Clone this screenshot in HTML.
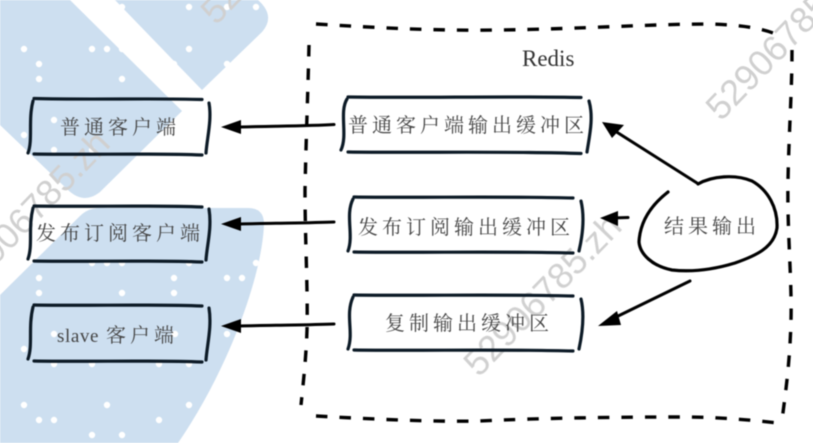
<!DOCTYPE html>
<html>
<head>
<meta charset="utf-8">
<style>
html,body{margin:0;padding:0;background:#fff;width:813px;height:443px;overflow:hidden}
svg{display:block}
.c{font-family:"Liberation Serif","Noto Serif CJK SC",serif;font-size:20px;fill:#444;letter-spacing:4px}
.w{font-family:"Liberation Sans",sans-serif;font-size:36px;fill:#d0d0d0}
.b{fill:none;stroke:#0c1a26;stroke-width:3.2;stroke-linecap:round}
.a{fill:none;stroke:#000;stroke-width:3;stroke-linecap:round}
.d{fill:none;stroke:#000;stroke-width:3.4;stroke-dasharray:11.5 12}
</style>
</head>
<body>
<svg width="813" height="443" viewBox="0 0 813 443" xmlns="http://www.w3.org/2000/svg">
<g style="filter:blur(.45px)">
<g fill="#cddff0">
<path d="M0 0H70L182 111L100 192Q84 205 68 190L0 125Z"/>
<path d="M115 0H258Q276 16 262 32L202 90Z"/>
<path d="M0 295L80 216Q88 208 100 208H248Q264 208 264 224C262 280 225 375 178 443H0Z"/>
</g>
<g fill="#fff">
<circle cx="122" cy="7" r="3.2"/><circle cx="189" cy="7" r="3.2"/><circle cx="227" cy="7" r="3.2"/><circle cx="256" cy="7" r="3.2"/>
<circle cx="24" cy="49" r="3.2"/><circle cx="92" cy="49" r="3.2"/><circle cx="107" cy="49" r="3.2"/><circle cx="122" cy="49" r="3.2"/><circle cx="189" cy="49" r="3.2"/>
<circle cx="39" cy="64" r="3.2"/><circle cx="174" cy="64" r="3.2"/><circle cx="227" cy="64" r="3.2"/>
<circle cx="39" cy="79" r="3.2"/><circle cx="122" cy="79" r="3.2"/>
<circle cx="54" cy="120" r="3.2"/><circle cx="24" cy="135" r="3.2"/><circle cx="54" cy="150" r="3.2"/><circle cx="92" cy="150" r="3.2"/>
<circle cx="92" cy="263" r="3.2"/><circle cx="107" cy="263" r="3.2"/><circle cx="122" cy="263" r="3.2"/><circle cx="189" cy="263" r="3.2"/><circle cx="256" cy="263" r="3.2"/>
<circle cx="39" cy="278" r="3.2"/><circle cx="174" cy="278" r="3.2"/><circle cx="227" cy="278" r="3.2"/><circle cx="242" cy="278" r="3.2"/>
<circle cx="39" cy="293" r="3.2"/><circle cx="122" cy="293" r="3.2"/><circle cx="174" cy="293" r="3.2"/>
<circle cx="54" cy="334" r="3.2"/><circle cx="175" cy="334" r="3.2"/><circle cx="227" cy="334" r="3.2"/><circle cx="24" cy="349" r="3.2"/>
<circle cx="54" cy="364" r="3.2"/><circle cx="92" cy="364" r="3.2"/><circle cx="159" cy="364" r="3.2"/><circle cx="189" cy="364" r="3.2"/>
<circle cx="24" cy="405" r="3.2"/><circle cx="107" cy="405" r="3.2"/><circle cx="189" cy="405" r="3.2"/>
<circle cx="39" cy="420" r="3.2"/><circle cx="54" cy="420" r="3.2"/><circle cx="159" cy="420" r="3.2"/>
<circle cx="92" cy="435" r="3.2"/><circle cx="122" cy="435" r="3.2"/>
</g>

<g class="w">
<text transform="translate(-5 266) rotate(-46)">906785.zh</text>
<text transform="translate(216 26) rotate(-46)">5290</text>
<text transform="translate(479 378) rotate(-46)">52906785.zh</text>
<text transform="translate(721 122) rotate(-46)">52906785</text>
</g>

<!-- dashed container -->
<path class="d" d="M316 24C380 28 440 31 500 30C580 29 650 24 710 24C740 25 760 28 773 33"/>
<path class="d" d="M792 50C792 90 789 130 788 180C787 230 792 280 791 320C790 360 786 390 782 420"/>
<path class="d" d="M316 416C370 419 430 422 480 421C540 418 620 417 680 417C720 417 750 420 778 423"/>
<path class="d" d="M309 45C308 90 306 140 305 190C305 240 308 290 307 330C306 360 303 385 301 405"/>

<!-- left boxes -->
<g class="b">
<path d="M34 98.5C90 100 150 98 202 99.5M34 154C90 155 150 153 202 155"/>
<path d="M33 101C28 120 33 140 28 153M209 103C212 120 207 138 206 153"/>
<path d="M34 206C90 207 150 205 202 207M34 261C90 262 150 260 202 262"/>
<path d="M33 208C28 228 33 245 28 259M209 209C212 228 207 245 206 260"/>
<path d="M34 305C90 306 150 304 202 306M34 361C90 362 150 360 202 362"/>
<path d="M33 307C28 327 33 345 28 359M209 308C212 327 207 345 206 360"/>
</g>
<!-- inner boxes -->
<g class="b">
<path d="M348 97C420 98 510 96 581 97.5M348 152C420 153 510 151 581 153.5"/>
<path d="M347 99C339 112 348 135 341 150M589 101C594 118 589 138 587 152"/>
<path d="M354 197C420 198 500 196 573 198M354 252C420 253 500 251 573 253"/>
<path d="M353 199C345 215 354 235 348 251M581 201C585 218 582 238 579 251"/>
<path d="M354 295C420 296 500 294 573 296M354 350C420 351 500 349 573 351"/>
<path d="M353 297C345 315 354 332 348 349M581 299C585 316 582 335 579 349"/>
</g>

<!-- arrows -->
<path class="a" d="M240 127C280 126 310 126 334 124.5"/>
<path d="M221 127L241 120V134Z" fill="#000"/>
<path class="a" d="M240 224C280 223 310 223 334 222"/>
<path d="M221 224L241 217V231Z" fill="#000"/>
<path class="a" d="M240 326C280 325 310 325 334 324"/>
<path d="M221 326L241 319V333Z" fill="#000"/>
<path class="a" d="M615 131L697 183"/>
<path d="M602 122L624 125L612 138Z" fill="#000"/>
<path class="a" d="M612 218L628 217.5"/>
<path d="M600 218L618 211V226Z" fill="#000"/>
<path class="a" d="M612 319L690 281"/>
<path d="M598 326L617 311L621 325Z" fill="#000"/>

<!-- blob -->
<path d="M698 184C712 176 735 174 752 181C768 190 778 208 777 228C774 248 755 256 735 263C712 270 690 272 672 270C652 266 640 254 639 242C640 222 650 206 668 192" fill="none" stroke="#000" stroke-width="3.2" stroke-linecap="round"/>

<!-- text -->
<text x="522" y="66" font-family="Liberation Serif,serif" font-size="23" fill="#333">Redis</text>
<text class="c" x="60" y="134">普通客户端</text>
<text class="c" x="36" y="240">发布订阅客户端</text>
<text class="c" x="57" y="342"><tspan font-size="19" letter-spacing="0.6">slave</tspan><tspan dx="7">客户端</tspan></text>
<text class="c" x="348" y="132">普通客户端输出缓冲区</text>
<text class="c" x="358" y="234">发布订阅输出缓冲区</text>
<text class="c" x="385" y="330">复制输出缓冲区</text>
<text class="c" x="664" y="233">结果输出</text>
</g>
</svg>
</body>
</html>
